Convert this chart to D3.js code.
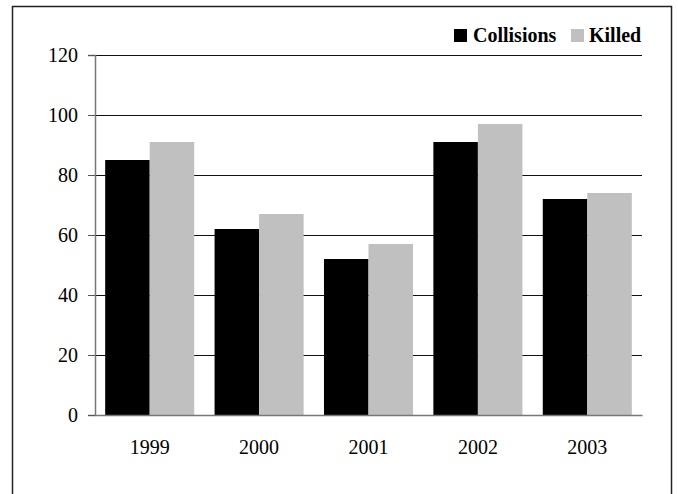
<!DOCTYPE html>
<html>
<head>
<meta charset="utf-8">
<script src="https://cdn.jsdelivr.net/npm/d3@7"></script>
<style>
  html, body { margin: 0; padding: 0; background: #fff; }
  svg { display: block; }
  svg text { font-family: "Liberation Serif", "Times New Roman", Times, "DejaVu Serif", serif; }
</style>
</head>
<body>
<svg id="chart" width="678" height="494"></svg>
<script>
const years = ["1999", "2000", "2001", "2002", "2003"];
const collisions = [85, 62, 52, 91, 72];
const killed = [91, 67, 57, 97, 74];
const seriesNames = ["Collisions", "Killed"];
const yTicks = [0, 20, 40, 60, 80, 100, 120];

const colors = ["#000000", "#c0c0c0"];
const svg = d3.select("#chart");
const font = '"Liberation Serif", "Times New Roman", Times, serif';

// outer frame
svg.append("rect")
  .attr("x", 12.5).attr("y", 6.5)
  .attr("width", 659).attr("height", 520)
  .attr("fill", "none").attr("stroke", "#222").attr("stroke-width", 1.5);

const pLeft = 95, pRight = 642, pTop = 55, pBottom = 415;

const x = d3.scaleBand().domain(years).range([pLeft, pRight]).paddingInner(0.186).paddingOuter(0.093);
const xs = d3.scaleBand().domain(seriesNames).range([0, x.bandwidth()]);
const y = d3.scaleLinear().domain([0, 120]).range([pBottom, pTop]);

// gridlines
svg.append("g").selectAll("line").data(yTicks.filter(d => d > 0)).join("line")
  .attr("x1", pLeft).attr("x2", pRight)
  .attr("y1", d => Math.round(y(d)) + 0.5).attr("y2", d => Math.round(y(d)) + 0.5)
  .attr("stroke", "#111").attr("stroke-width", 1);

// bars
const data = years.map((yr, i) => ({ year: yr, values: [collisions[i], killed[i]] }));
const g = svg.append("g");
g.selectAll("g").data(data).join("g")
  .attr("transform", d => `translate(${x(d.year)},0)`)
  .selectAll("rect").data(d => d.values.map((v, j) => ({ v, j })))
  .join("rect")
  .attr("x", d => xs(seriesNames[d.j]))
  .attr("width", xs.bandwidth())
  .attr("y", d => y(d.v))
  .attr("height", d => y(0) - y(d.v))
  .attr("fill", d => colors[d.j]);

// y axis
const yAxis = d3.axisLeft(y).tickValues(yTicks).tickSize(7).tickPadding(10);
const ya = svg.append("g").attr("transform", `translate(${pLeft},0)`).call(yAxis)
  .attr("font-family", null).attr("font-size", null);
ya.select(".domain").attr("stroke", "#777").attr("stroke-width", 1.5);
ya.selectAll(".tick line").attr("stroke", "#555");
ya.selectAll("text").style("font-family", font).style("font-size", "20px").attr("fill", "#000");

// x axis
const xAxis = d3.axisBottom(x).tickSize(0).tickPadding(25);
const xa = svg.append("g").attr("transform", `translate(0,${pBottom})`).call(xAxis)
  .attr("font-family", null).attr("font-size", null);
xa.select(".domain").attr("stroke", "#777").attr("stroke-width", 1.5);
xa.selectAll("text").style("font-family", font).style("font-size", "20px").attr("fill", "#000");

// legend
const legendItems = [
  { name: seriesNames[0], color: colors[0], sx: 454, tx: 473 },
  { name: seriesNames[1], color: colors[1], sx: 571, tx: 589 }
];
const lg = svg.append("g");
lg.selectAll("rect").data(legendItems).join("rect")
  .attr("x", d => d.sx).attr("y", 29).attr("width", 13).attr("height", 13)
  .attr("fill", d => d.color);
lg.selectAll("text").data(legendItems).join("text")
  .attr("x", d => d.tx).attr("y", 42)
  .style("font-family", font).style("font-size", "20px").style("font-weight", "bold")
  .attr("fill", "#000")
  .text(d => d.name);
</script>
</body>
</html>
